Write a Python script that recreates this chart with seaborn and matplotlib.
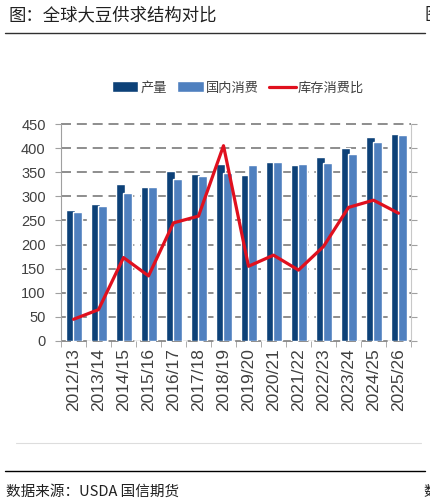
import numpy as np
import pandas as pd
import seaborn as sns
import matplotlib.pyplot as plt
from matplotlib.patches import Patch
from matplotlib.lines import Line2D

years = ['2012/13', '2013/14', '2014/15', '2015/16', '2016/17', '2017/18', '2018/19',
         '2019/20', '2020/21', '2021/22', '2022/23', '2023/24', '2024/25', '2025/26']
production = [271, 285, 325, 319, 352, 346, 367, 344, 372, 364, 381, 400, 424, 429]
consumption = [268, 280, 307, 319, 335, 343, 348, 364, 371, 368, 369, 387, 413, 427]
stock_ratio = [45, 65, 173, 135, 245, 259, 405, 155, 178, 147, 196, 277, 292, 265]

dark = '#0d4178'
light = '#4f80bf'
red = '#e0101e'

sns.set_style('white')
plt.rcParams['font.family'] = ['Liberation Sans', 'Noto Sans CJK SC', 'DejaVu Sans']

df = pd.DataFrame({'year': years * 2,
                   'value': production + consumption,
                   'kind': ['产量'] * len(years) + ['国内消费'] * len(years)})

fig = plt.figure(figsize=(4.3, 5.04), dpi=100)
ax = fig.add_axes([61 / 430, 1 - 341 / 504, 350 / 430, 217 / 504])

sns.barplot(data=df, x='year', y='value', hue='kind', palette=[dark, light],
            width=0.8, ax=ax, legend=False, saturation=1)

# overlap the two bars of each year a bit, like the original
for i, cont in enumerate(ax.containers):
    for p in cont.patches:
        p.set_width(0.36)
        p.set_x(p.get_x() + (0.08 if i == 0 else -0.04))
        p.set_zorder(2 + i)

sns.lineplot(x=np.arange(len(years)), y=stock_ratio, color=red, linewidth=2.3,
             ax=ax, zorder=5)

ax.set_ylim(0, 450)
ax.set_xlim(-0.5, len(years) - 0.5)
ax.set_yticks(range(0, 451, 50))
ax.set_xlabel('')
ax.set_ylabel('')
ax.yaxis.grid(True, color='#7a7a7a', linestyle=(0, (6, 3.5)), linewidth=1.2, zorder=0)
ax.set_axisbelow(True)
for g in ax.get_ygridlines():
    g.set_clip_on(False)

ax.spines['top'].set_visible(False)
ax.spines['bottom'].set_visible(False)
ax.spines['left'].set_color('#a0a0a0')
ax.spines['right'].set_color('#c8c8c8')

ax.set_xticks(np.arange(len(years)))
ax.set_xticklabels(years, rotation=90, fontsize=12.5, color='#404040')
ax.tick_params(axis='x', length=0, pad=5)
ax.set_xticks(np.arange(len(years) + 1) - 0.5, minor=True)
ax.tick_params(axis='x', which='minor', length=4, color='#a0a0a0', bottom=True)
ax.axhline(0, color='#a0a0a0', linewidth=1, zorder=1)
ax.tick_params(axis='y', labelsize=10.5, labelcolor='#404040', length=4,
               color='#a0a0a0', left=True, right=True, direction='out', pad=7)

handles = [Patch(facecolor=dark, label='产量'),
           Patch(facecolor=light, label='国内消费'),
           Line2D([0], [0], color=red, linewidth=2.3, label='库存消费比')]
fig.legend(handles=handles, loc='center', bbox_to_anchor=(238 / 430, 1 - 88 / 504),
           ncol=3, frameon=False, handlelength=2.0, handleheight=0.9,
           columnspacing=0.8, handletextpad=0.15, labelcolor='#404040',
           prop={'family': ['Noto Sans CJK SC'], 'size': 9.5})

fig.text(8 / 430, 1 - 15 / 504, '图：全球大豆供求结构对比', fontsize=12.5,
         family=['Noto Sans CJK SC'], va='center', ha='left', color='#202020')
fig.text(424 / 430, 1 - 15 / 504, '图', fontsize=12.5, family=['Noto Sans CJK SC'],
         va='center', ha='left', color='#202020')
fig.add_artist(Line2D([5 / 430, 425 / 430], [1 - 33 / 504] * 2, color='#303030', linewidth=1))
fig.add_artist(Line2D([16 / 430, 421 / 430], [1 - 443 / 504] * 2, color='#dddddd', linewidth=0.8))
fig.add_artist(Line2D([5 / 430, 425 / 430], [1 - 471 / 504] * 2, color='#000000', linewidth=1))
fig.text(6 / 430, 1 - 492 / 504, '数据来源：USDA 国信期货', fontsize=10.5,
         family=['Noto Sans CJK SC'], va='center', ha='left', color='#202020')
fig.text(423 / 430, 1 - 492 / 504, '数', fontsize=10.5, family=['Noto Sans CJK SC'],
         va='center', ha='left', color='#202020')

fig.savefig('out.png', dpi=100)
